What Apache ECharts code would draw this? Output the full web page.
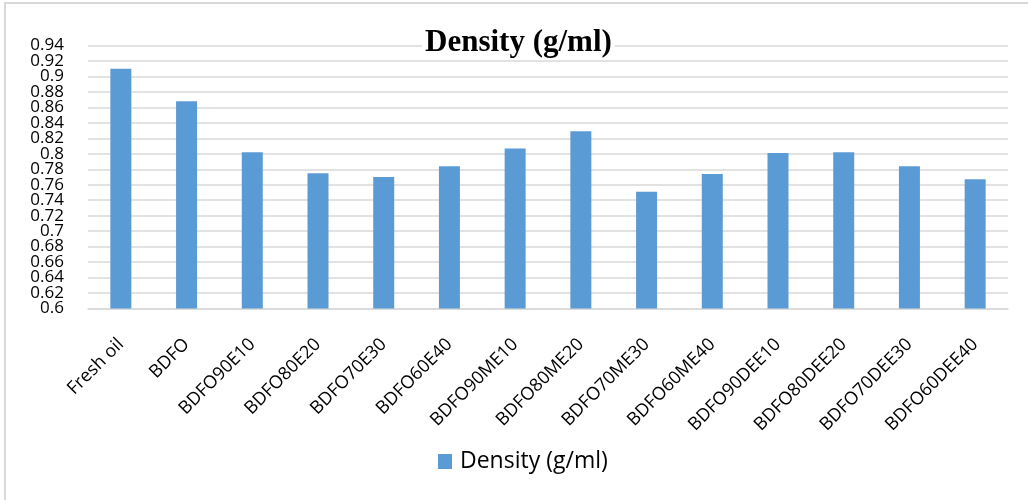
<!DOCTYPE html>
<html>
<head>
<meta charset="utf-8">
<script src="https://cdn.jsdelivr.net/npm/echarts@6/dist/echarts.min.js"></script>
<style>
html,body{margin:0;padding:0;background:#fff;}
#chart{width:1028px;height:500px;}
</style>
</head>
<body>
<div id="chart"></div>
<script>
const categories = ['Fresh oil','BDFO','BDFO90E10','BDFO80E20','BDFO70E30','BDFO60E40','BDFO90ME10','BDFO80ME20','BDFO70ME30','BDFO60ME40','BDFO90DEE10','BDFO80DEE20','BDFO70DEE30','BDFO60DEE40'];
const densityValues = [0.910,0.868,0.802,0.775,0.770,0.784,0.807,0.829,0.751,0.774,0.801,0.802,0.784,0.767];
const seriesName = 'Density (g/ml)';
const chartTitle = 'Density (g/ml)';
const yRange = [0.6, 0.94];
const yStep = 0.02;

function yLabel(parity) {
  return function (v) {
    const idx = Math.round(v / yStep);
    return (idx % 2 === parity) ? String(+v.toFixed(2)) : '';
  };
}
function yAxisDef(parity, showSplit) {
  return {
    type: 'value',
    position: 'left',
    min: yRange[0], max: yRange[1], interval: yStep,
    axisLine: {show: false},
    axisTick: {show: false},
    splitLine: {show: showSplit, lineStyle: {color: '#d9d9d9', width: 1.5}},
    axisLabel: {margin: 24, fontFamily: 'Open Sans', fontSize: 17, color: '#000',
      showMinLabel: true, showMaxLabel: true, formatter: yLabel(parity)}
  };
}

const chart = echarts.init(document.getElementById('chart'), null, {renderer:'canvas'});
chart.setOption({
  animation: false,
  backgroundColor: '#fff',
  graphic: [{
    type: 'rect', z: -10,
    shape: {x: 5, y: 3, width: 1100, height: 600},
    style: {fill: 'none', stroke: '#d9d9d9', lineWidth: 2}
  }],
  title: {
    text: chartTitle,
    left: 422,
    top: 25,
    padding: [2, 3, 2, 3],
    backgroundColor: '#fff',
    textStyle: {fontFamily: 'Liberation Serif', fontWeight: 'bold', fontSize: 31, color: '#000'}
  },
  legend: {
    data: [seriesName],
    left: 438,
    top: 450,
    padding: 0,
    icon: 'rect',
    itemWidth: 14,
    itemHeight: 15,
    textStyle: {fontFamily: 'Open Sans', fontSize: 23, color: '#000', padding: [0,0,0,3]}
  },
  grid: {left: 88, right: 20, top: 45.5, bottom: 191.5, containLabel: false},
  xAxis: {
    type: 'category',
    data: categories,
    axisLine: {lineStyle: {color: '#d9d9d9', width: 1.5}},
    axisTick: {show: false},
    axisLabel: {rotate: 45, margin: 33, interval: 0, fontFamily: 'Open Sans', fontSize: 18, color: '#000'}
  },
  yAxis: [yAxisDef(0, true), yAxisDef(1, false)],
  series: [{
    name: seriesName,
    type: 'bar',
    data: densityValues,
    barWidth: 21,
    itemStyle: {color: '#5b9bd5'}
  }]
});
</script>
</body>
</html>
